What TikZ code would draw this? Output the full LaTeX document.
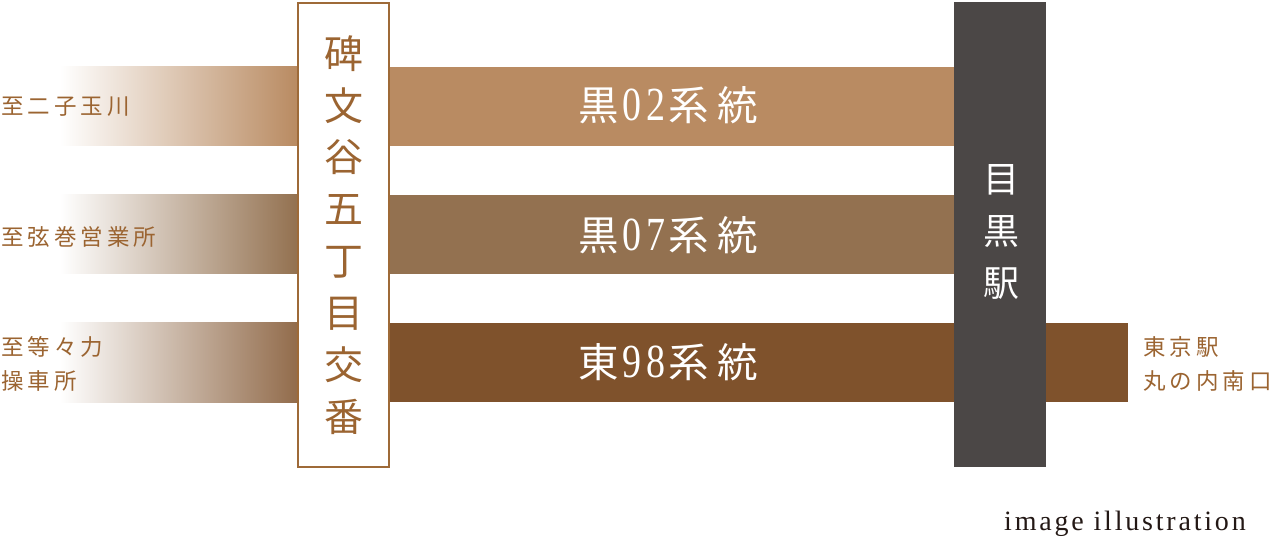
\documentclass[tikz,border=0pt]{standalone}
\usepackage{fontspec}
\usepackage{graphicx}
\setmainfont{Liberation Serif}
\newfontfamily\cjk{Noto Sans CJK JP}
\newfontfamily\capfont{Liberation Serif}[LetterSpace=10]
\definecolor{bandA}{HTML}{B98B62}
\definecolor{bandB}{HTML}{937150}
\definecolor{bandC}{HTML}{7F522C}
\definecolor{station}{HTML}{4B4746}
\definecolor{txtbrown}{HTML}{9B6431}
\definecolor{boxline}{HTML}{9E6A38}
\definecolor{caption}{HTML}{231815}
\newcommand\bandgap{\hspace{3.5pt}}
\newcommand\cjkgap{\hspace{8pt}}
\newcommand\digitgap{\hspace{5pt}}
\newcommand\labgap{\hspace{4pt}}
\newcommand\digs[1]{\scalebox{1}[1.25]{\rmfamily\fontsize{38}{38}\selectfont #1}}
\tikzset{
  fade/.style={draw=none},
  bandtext/.style={text=white, font=\cjk\fontsize{40.5}{40}\selectfont, inner sep=0pt},
  lab/.style={text=txtbrown, font=\cjk\fontsize{22.5}{34}\selectfont, align=left, anchor=west, inner sep=0pt},
  vert/.style={inner sep=0pt, align=center},
}
\begin{document}
\begin{tikzpicture}[x=1pt,y=-1pt]
\useasboundingbox (0,0) rectangle (1272,537);
% fading lead-ins
\shade[fade, left color=white, right color=bandA] (60,67) rectangle (297,146);
\shade[fade, left color=white, right color=bandB] (60,195) rectangle (297,274);
\shade[fade, left color=white, right color=bandC!85!white] (60,323) rectangle (297,402);
% solid bands
\fill[bandA] (297,67) rectangle (955,146);
\fill[bandB] (297,195) rectangle (955,274);
\fill[bandC] (297,323) rectangle (1128,402);
% stop box
\node[vert, draw=boxline, line width=2pt, fill=white, minimum width=91pt, minimum height=464pt,
      text=txtbrown, font=\cjk\fontsize{39}{51.9}\selectfont] (stop) at (343.5,235)
  {碑\\文\\谷\\五\\丁\\目\\交\\番};
% station
\node[vert, fill=station, minimum width=92pt, minimum height=465pt] (meguro) at (1000,234.5) {};
\node[vert, text=white, font=\cjk\fontsize{36}{52}\selectfont] (meguroname) at (1001,232) {目\\黒\\駅};
% band labels
\node[bandtext] (r1) at (668,105) {黒\bandgap\digs{0\digitgap 2}\bandgap 系\cjkgap 統};
\node[bandtext] (r2) at (668,235) {黒\bandgap\digs{0\digitgap 7}\bandgap 系\cjkgap 統};
\node[bandtext] (r3) at (668,362) {東\bandgap\digs{9\digitgap 8}\bandgap 系\cjkgap 統};
% destinations
\node[lab] (d1) at (1,107) {至\labgap 二\labgap 子\labgap 玉\labgap 川};
\node[lab] (d2) at (1,237) {至\labgap 弦\labgap 巻\labgap 営\labgap 業\labgap 所};
\node[lab] (d3) at (1,364) {至\labgap 等\labgap 々\labgap 力\\操\labgap 車\labgap 所};
\node[lab] (d4) at (1143,364) {東\labgap 京\labgap 駅\\丸\labgap の\labgap 内\labgap 南\labgap 口};
% caption
\node[inner sep=0pt, anchor=base west, text=caption, font=\capfont\fontsize{28}{28}\selectfont] (cap) at (1004,530) {image illustration};
\end{tikzpicture}
\end{document}
